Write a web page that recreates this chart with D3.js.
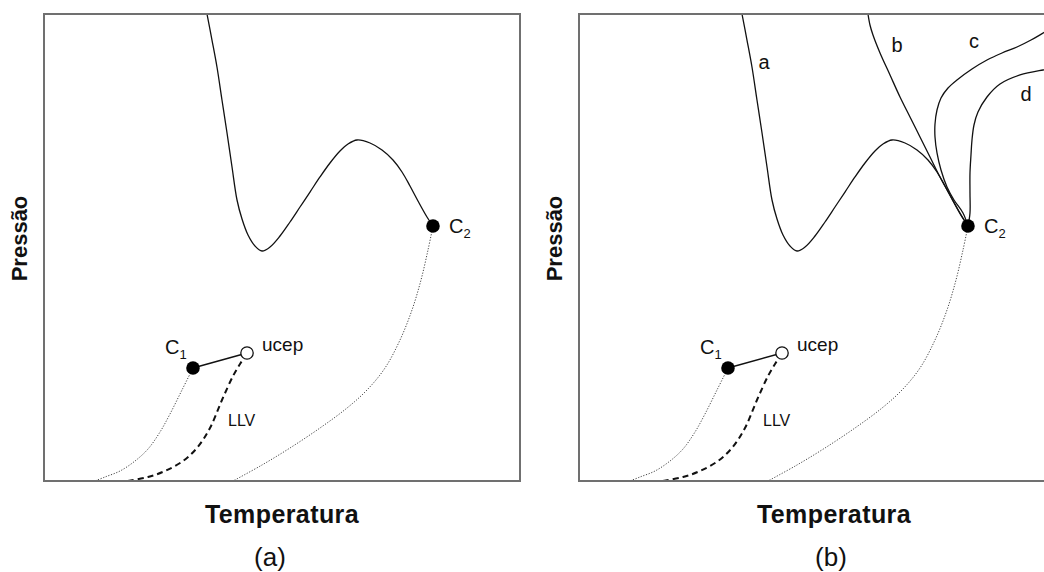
<!DOCTYPE html>
<html>
<head>
<meta charset="utf-8">
<script src="https://cdn.jsdelivr.net/npm/d3@7/dist/d3.min.js"></script>
<style>
  html, body { margin: 0; padding: 0; background: #fff; }
  svg { display: block; }
  text { font-family: "Liberation Sans", Arial, sans-serif; fill: #111; }
</style>
</head>
<body>
<div id="chart"></div>
<script>
// ---- Data (arbitrary temperature / pressure units) ----
const criticalLocusA = [
  [34.24,100],[35.29,94.43],[36.34,88.65],[37.39,81.58],[38.45,74.52],[39.50,67.24],[40.55,60.17],
  [41.60,56.10],[42.86,52.68],[44.33,50.32],[45.80,49.25],[47.48,50.11],[49.58,52.46],[51.68,55.46],
  [53.78,58.67],[55.88,61.88],[57.98,65.10],[60.08,68.09],[62.18,70.66],[63.87,72.16],[65.76,73.02],
  [68.49,72.38],[71.01,70.88],[73.32,68.74],[75.21,66.17],[76.89,63.17],[78.57,59.96],[80.46,56.53],[81.72,54.60]
];
const curveB = [
  [81.72,54.60],[80.04,57.39],[77.94,61.24],[75.84,65.10],[73.74,69.38],[71.64,73.66],[69.54,77.94],
  [67.44,82.23],[65.34,86.94],[63.24,91.65],[61.76,95.50],[61.13,97.64],[60.71,100]
];
const curveC = [
  [81.72,54.60],[80.67,57.39],[78.78,60.17],[77.31,62.96],[76.05,66.60],[75.21,70.24],[74.79,73.66],
  [74.79,76.45],[75.21,79.44],[76.05,82.01],[77.52,84.15],[79.41,85.87],[82.56,88.22],[85.71,90.15],
  [88.87,91.65],[92.02,92.93],[94.96,94.43],[97.90,96.15],[100.21,97.43]
];
const curveD = [
  [81.72,54.60],[82.14,57.39],[82.14,61.67],[82.14,65.95],[82.35,69.81],[82.56,73.02],[82.98,76.23],
  [83.82,79.01],[85.71,82.23],[88.45,85.01],[92.65,86.94],[97.48,88.01],[100.21,88.44]
];
const vaporC1 = [[31.30,24.20],[28.99,19.49],[26.47,14.35],[24.37,10.49],[21.85,6.85],[19.12,4.28],[15.97,2.14],[12.82,0.86],[10.71,0]];
const llvLine = [[42.65,27.41],[41.18,25.05],[39.71,22.48],[37.39,17.34],[34.87,11.35],[32.14,7.07],[29.20,4.28],[25.42,2.14],[21.85,0.86],[17.44,0]];
const vaporC2 = [
  [81.72,54.60],[80.67,49.46],[79.20,43.04],[77.31,36.62],[74.79,30.19],[71.64,24.20],[67.86,19.49],
  [63.66,15.63],[57.98,11.35],[51.68,7.07],[45.80,3.43],[39.71,0]
];
const pointC1 = [31.30,24.20];
const pointUcep = [42.65,27.41];
const pointC2 = [81.72,54.60];
const curveLabels = [
  {t:"a", x:38.9, y:89.7},
  {t:"b", x:66.8, y:93.4},
  {t:"c", x:83.0, y:94.2},
  {t:"d", x:93.9, y:82.9}
];
const xTitle = "Temperatura";
const yTitle = "Pressão";
const panelNames = ["(a)", "(b)"];

// ---- Layout ----
const W = 1044, H = 572;
const svg = d3.select("#chart").append("svg").attr("width", W).attr("height", H);
const unitPx = 4.76;
const panels = [
  {left:44,  pw:476, name:panelNames[0], extra:false, titleX:282, nameX:270},
  {left:579, pw:510, name:panelNames[1], extra:true,  titleX:834, nameX:831}
];
const ph = 467, topY = 14;

panels.forEach(p => {
  const x = d3.scaleLinear().domain([0, p.pw / unitPx]).range([p.left, p.left + p.pw]);
  const y = d3.scaleLinear().domain([0,100]).range([topY + ph, topY]);
  const line = d3.line().x(d => x(d[0])).y(d => y(d[1])).curve(d3.curveCatmullRom.alpha(0.5));
  const g = svg.append("g");

  const clipId = "clip" + p.left;
  svg.append("clipPath").attr("id", clipId).append("rect")
    .attr("x", p.left).attr("y", topY).attr("width", p.pw).attr("height", ph);
  const plot = g.append("g").attr("clip-path", `url(#${clipId})`);

  plot.append("path").attr("d", line(criticalLocusA)).attr("fill","none").attr("stroke","#111").attr("stroke-width",1.3);
  if (p.extra) {
    [curveB, curveC, curveD].forEach(c => {
      plot.append("path").attr("d", line(c)).attr("fill","none").attr("stroke","#111").attr("stroke-width",1.3);
    });
  }
  [vaporC1, vaporC2].forEach(c => {
    plot.append("path").attr("d", line(c)).attr("fill","none").attr("stroke","#444")
      .attr("stroke-width",1).attr("stroke-dasharray","1.2,1.6");
  });
  plot.append("path").attr("d", line(llvLine)).attr("fill","none").attr("stroke","#111")
    .attr("stroke-width",2).attr("stroke-dasharray","6,4");
  plot.append("line").attr("x1", x(pointC1[0])).attr("y1", y(pointC1[1]))
    .attr("x2", x(pointUcep[0])).attr("y2", y(pointUcep[1])).attr("stroke","#111").attr("stroke-width",1.5);

  // frame
  g.append("rect").attr("x", p.left).attr("y", topY).attr("width", p.pw).attr("height", ph)
    .attr("fill","none").attr("stroke","#707070").attr("stroke-width",2);

  // points
  g.append("circle").attr("cx", x(pointC1[0])).attr("cy", y(pointC1[1])).attr("r",6.8).attr("fill","#000");
  g.append("circle").attr("cx", x(pointUcep[0])).attr("cy", y(pointUcep[1])).attr("r",6.2).attr("fill","#fff").attr("stroke","#111").attr("stroke-width",1.3);
  g.append("circle").attr("cx", x(pointC2[0])).attr("cy", y(pointC2[1])).attr("r",6.8).attr("fill","#000");

  // point labels
  const c1 = g.append("text").attr("x", x(pointC1[0]) - 28).attr("y", y(pointC1[1]) - 14).attr("font-size", 20);
  c1.append("tspan").text("C");
  c1.append("tspan").attr("font-size", 13).attr("dy", 5).text("1");
  g.append("text").attr("x", x(pointUcep[0]) + 15).attr("y", y(pointUcep[1]) - 2).attr("font-size", 19).text("ucep");
  g.append("text").attr("x", x(pointUcep[0]) - 19).attr("y", y(pointUcep[1]) + 73).attr("font-size", 16).text("LLV");
  const c2 = g.append("text").attr("x", x(pointC2[0]) + 16).attr("y", y(pointC2[1]) + 7).attr("font-size", 20);
  c2.append("tspan").text("C");
  c2.append("tspan").attr("font-size", 13).attr("dy", 5).text("2");

  if (p.extra) {
    curveLabels.forEach(l => {
      g.append("text").attr("x", x(l.x)).attr("y", y(l.y)).attr("text-anchor","middle")
        .attr("dominant-baseline","central").attr("font-size", 20).text(l.t);
    });
  }

  // titles
  g.append("text").attr("x", p.titleX).attr("y", 523).attr("text-anchor","middle")
    .attr("font-size", 25).attr("font-weight","bold").attr("letter-spacing", 0.4).text(xTitle);
  g.append("text").attr("transform", `translate(${p.left - 17},${topY + ph/2 - 9}) rotate(-90)`)
    .attr("text-anchor","middle").attr("font-size", 22).attr("font-weight","bold").text(yTitle);
  g.append("text").attr("x", p.nameX).attr("y", 566).attr("text-anchor","middle")
    .attr("font-size", 26).text(p.name);
});
</script>
</body>
</html>
